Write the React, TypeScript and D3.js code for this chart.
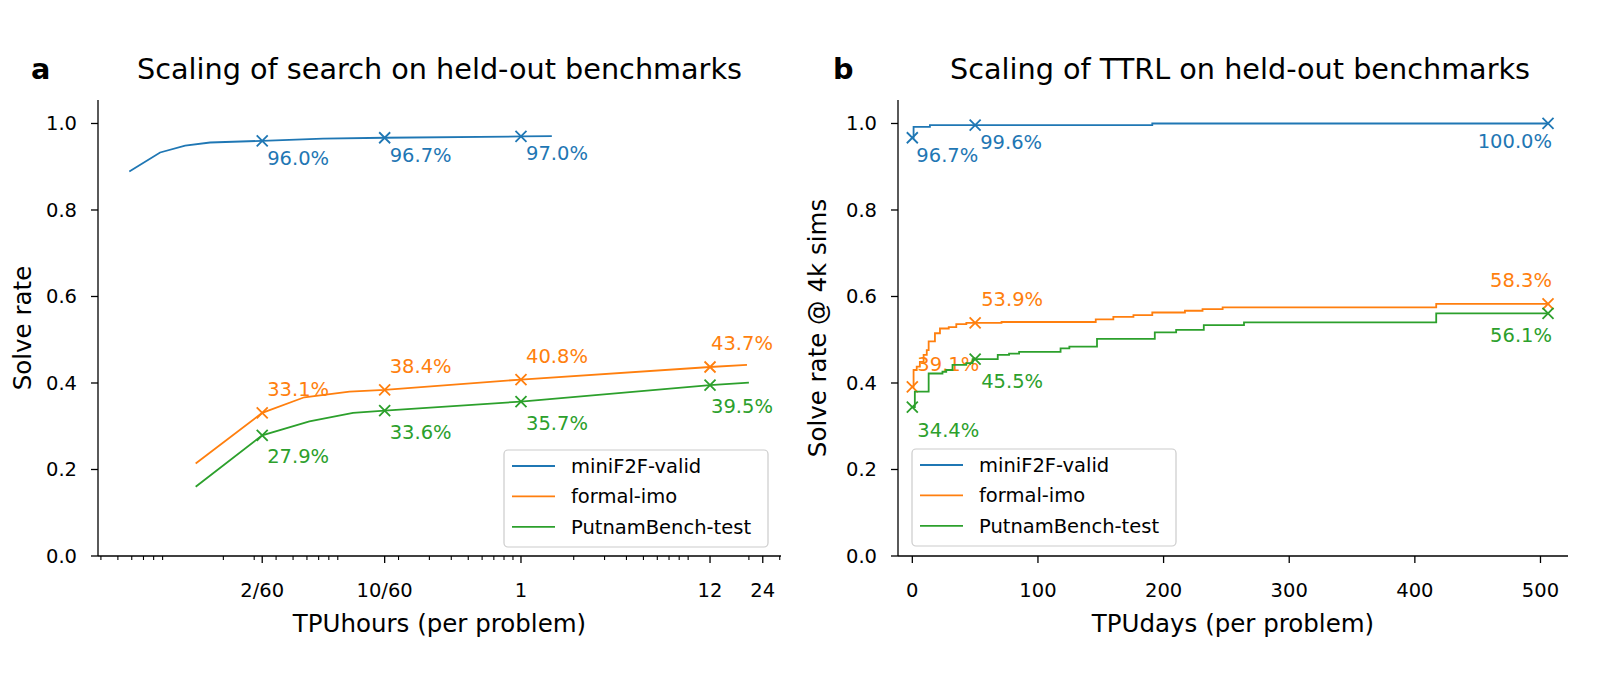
import { useEffect } from "react";
import * as d3 from "d3";

const COLORS = ["#1f77b4", "#ff7f0e", "#2ca02c"];
const SERIES_NAMES = ["miniF2F-valid", "formal-imo", "PutnamBench-test"];

// panel a: search compute (TPU hours per problem) vs solve rate
const searchHoursMiniF2F = [0.00581, 0.00871, 0.0121, 0.0168, 2 / 60, 0.0741, 10 / 60, 1, 1.5];
const searchRateMiniF2F = [0.889, 0.933, 0.949, 0.956, 0.96, 0.965, 0.967, 0.97, 0.971];
const searchHoursFormalImo = [0.0139, 2 / 60, 0.058, 0.105, 10 / 60, 1, 12, 19.5];
const searchRateFormalImo = [0.214, 0.331, 0.367, 0.38, 0.384, 0.408, 0.437, 0.442];
const searchHoursPutnam = [0.0139, 2 / 60, 0.062, 0.11, 10 / 60, 1, 12, 20];
const searchRatePutnam = [0.16, 0.279, 0.311, 0.331, 0.336, 0.357, 0.395, 0.401];
const searchMarkHours = [
  [2 / 60, 10 / 60, 1],
  [2 / 60, 10 / 60, 1, 12],
  [2 / 60, 10 / 60, 1, 12],
];

// panel b: TTRL compute (TPU days per problem) vs solve rate, step curves
const ttrlDaysMiniF2F = [0, 1, 14, 191, 506];
const ttrlRateMiniF2F = [0.967, 0.992, 0.996, 1.0, 1.0];
const ttrlDaysFormalImo = [0, 1, 3.5, 6, 9, 11.5, 13, 18, 22, 29, 35, 43, 71, 146, 160, 176, 191, 217, 231, 247, 417, 506];
const ttrlRateFormalImo = [0.391, 0.43, 0.438, 0.449, 0.465, 0.476, 0.496, 0.515, 0.526, 0.529, 0.536, 0.539, 0.541, 0.547, 0.553, 0.557, 0.563, 0.567, 0.571, 0.575, 0.583, 0.583];
const ttrlDaysPutnam = [0, 2, 13, 24, 27, 32, 43, 48, 68, 77, 85, 118, 125, 147, 193, 210, 232, 264, 417, 506];
const ttrlRatePutnam = [0.344, 0.38, 0.422, 0.426, 0.43, 0.442, 0.446, 0.455, 0.465, 0.468, 0.472, 0.48, 0.484, 0.502, 0.517, 0.523, 0.534, 0.54, 0.561, 0.561];
const ttrlMarkDays = [
  [0, 50, 506],
  [0, 50, 506],
  [0, 50, 506],
];

const hourTicks = [2 / 60, 10 / 60, 1, 12, 24];
const hourTickLabels = ["2/60", "10/60", "1", "12", "24"];
const dayTicks = [0, 100, 200, 300, 400, 500];
const rateTicks = [0, 0.2, 0.4, 0.6, 0.8, 1.0];

// label offsets (px) from each marker: [dx, dy, anchor]
const searchLabelOffsets: [number, number, string][][] = [
  [[5, 24, "start"], [5, 24, "start"], [5, 24, "start"]],
  [[5, -17, "start"], [5, -17, "start"], [5, -17, "start"], [1, -17, "start"]],
  [[5, 28, "start"], [5, 28, "start"], [5, 28, "start"], [1, 28, "start"]],
];
const ttrlLabelOffsets: [number, number, string][][] = [
  [[4, 24, "start"], [5, 24, "start"], [4, 25, "end"]],
  [[5, -16, "start"], [6, -17, "start"], [4, -17, "end"]],
  [[5, 30, "start"], [6, 29, "start"], [4, 29, "end"]],
];

const FONT = "'DejaVu Sans', sans-serif";
const TICK_FS = 19.5;
const LABEL_FS = 24.5;
const TITLE_FS = 28.7;
const Y_TOP = 100;
const Y_BOTTOM = 556;

const y = d3.scaleLinear().domain([0, 1.0543]).range([Y_BOTTOM, Y_TOP]);
const xHours = d3.scaleLog().domain([0.00385, 30.5]).range([98, 781]);
const xDays = d3.scaleLinear().domain([-11.4, 521.9]).range([898, 1568]);

const pct = (v: number) => `${(v * 100).toFixed(1)}%`;

type Pt = [number, number];

const zip = (xs: number[], ys: number[]): Pt[] => xs.map((d, i) => [d, ys[i]]);

const valueAt = (pts: Pt[], at: number) => {
  // value in effect at `at` (last point not after it)
  let v = pts[0][1];
  for (const p of pts) if (p[0] <= at + 1e-9) v = p[1];
  return v;
};

const Cross = ({ cx, cy, color }: { cx: number; cy: number; color: string }) => (
  <path
    d={`M${cx - 5.5},${cy - 5.5}L${cx + 5.5},${cy + 5.5}M${cx - 5.5},${cy + 5.5}L${cx + 5.5},${cy - 5.5}`}
    stroke={color}
    strokeWidth={1.8}
    fill="none"
  />
);

const Legend = ({ x0, y0 }: { x0: number; y0: number }) => (
  <g>
    <rect
      x={x0}
      y={y0}
      width={264}
      height={97}
      rx={4}
      fill="#fff"
      fillOpacity={0.8}
      stroke="#cccccc"
      strokeWidth={1.2}
    />
    {SERIES_NAMES.map((name, i) => {
      const ry = y0 + 16 + i * 30.4;
      return (
        <g key={name}>
          <line x1={x0 + 8} x2={x0 + 51} y1={ry} y2={ry} stroke={COLORS[i]} strokeWidth={1.8} />
          <text x={x0 + 67} y={ry + 7} fontSize={TICK_FS} fontFamily={FONT} fill="#000">
            {name}
          </text>
        </g>
      );
    })}
  </g>
);

const YAxis = ({ x0, label, labelX }: { x0: number; label: string; labelX: number }) => (
  <g>
    <line x1={x0} x2={x0} y1={Y_TOP} y2={Y_BOTTOM} stroke="#000" strokeWidth={1.3} />
    {rateTicks.map((t) => (
      <g key={t}>
        <line x1={x0 - 7} x2={x0} y1={y(t)} y2={y(t)} stroke="#000" strokeWidth={1.3} />
        <text
          x={x0 - 21}
          y={y(t) + 7}
          textAnchor="end"
          fontSize={TICK_FS}
          fontFamily={FONT}
          fill="#000"
        >
          {t.toFixed(1)}
        </text>
      </g>
    ))}
    <text
      transform={`translate(${labelX},${(Y_TOP + Y_BOTTOM) / 2}) rotate(-90)`}
      textAnchor="middle"
      fontSize={LABEL_FS}
      fontFamily={FONT}
      fill="#000"
    >
      {label}
    </text>
  </g>
);

export default function App() {
  useEffect(() => {
    document.body.style.margin = "0";
  }, []);

  const lineHours = d3
    .line<Pt>()
    .x((d) => xHours(d[0]))
    .y((d) => y(d[1]));
  const lineDays = d3
    .line<Pt>()
    .x((d) => xDays(d[0]))
    .y((d) => y(d[1]))
    .curve(d3.curveStepAfter);

  const searchSeries = [
    zip(searchHoursMiniF2F, searchRateMiniF2F),
    zip(searchHoursFormalImo, searchRateFormalImo),
    zip(searchHoursPutnam, searchRatePutnam),
  ];
  const ttrlSeries = [
    zip(ttrlDaysMiniF2F, ttrlRateMiniF2F),
    zip(ttrlDaysFormalImo, ttrlRateFormalImo),
    zip(ttrlDaysPutnam, ttrlRatePutnam),
  ];

  // log-scale minor ticks: 2..9 x 10^k inside the domain
  const minorHours = xHours
    .ticks()
    .filter((t) => Math.abs(t / Math.pow(10, Math.floor(Math.log10(t) + 1e-9)) - 1) > 1e-6);

  const [xl0, xl1] = xHours.range();
  const [xr0, xr1] = xDays.range();

  return (
    <svg
      width={1600}
      height={676}
      style={{ position: "absolute", left: 0, top: 0, background: "#fff" }}
    >
      <rect width={1600} height={676} fill="#fff" />

      {/* panel a */}
      <text x={31} y={79} fontSize={TITLE_FS} fontWeight="bold" fontFamily={FONT}>
        a
      </text>
      <text x={(xl0 + xl1) / 2} y={79} textAnchor="middle" fontSize={TITLE_FS} fontFamily={FONT}>
        Scaling of search on held-out benchmarks
      </text>
      <YAxis x0={xl0} label="Solve rate" labelX={31} />
      <line x1={xl0} x2={xl1} y1={Y_BOTTOM} y2={Y_BOTTOM} stroke="#000" strokeWidth={1.3} />
      {minorHours.map((t) => (
        <line key={t} x1={xHours(t)} x2={xHours(t)} y1={Y_BOTTOM} y2={Y_BOTTOM + 4} stroke="#000" strokeWidth={1.1} />
      ))}
      {hourTicks.map((t, i) => (
        <g key={t}>
          <line x1={xHours(t)} x2={xHours(t)} y1={Y_BOTTOM} y2={Y_BOTTOM + 7} stroke="#000" strokeWidth={1.3} />
          <text x={xHours(t)} y={597} textAnchor="middle" fontSize={TICK_FS} fontFamily={FONT}>
            {hourTickLabels[i]}
          </text>
        </g>
      ))}
      <text x={(xl0 + xl1) / 2} y={632} textAnchor="middle" fontSize={LABEL_FS} fontFamily={FONT}>
        TPUhours (per problem)
      </text>
      {searchSeries.map((pts, s) => (
        <g key={s}>
          <path d={lineHours(pts) ?? ""} fill="none" stroke={COLORS[s]} strokeWidth={1.8} />
          {searchMarkHours[s].map((h, j) => {
            const v = valueAt(pts, h);
            const cx = xHours(h);
            const cy = y(v);
            const [dx, dy, anchor] = searchLabelOffsets[s][j];
            return (
              <g key={j}>
                <Cross cx={cx} cy={cy} color={COLORS[s]} />
                <text
                  x={cx + dx}
                  y={cy + dy}
                  textAnchor={anchor}
                  fontSize={TICK_FS}
                  fontFamily={FONT}
                  fill={COLORS[s]}
                >
                  {pct(v)}
                </text>
              </g>
            );
          })}
        </g>
      ))}
      <Legend x0={504} y0={450} />

      {/* panel b */}
      <text x={833} y={79} fontSize={TITLE_FS} fontWeight="bold" fontFamily={FONT}>
        b
      </text>
      <text x={(xr0 + xr1) / 2 + 7} y={79} textAnchor="middle" fontSize={TITLE_FS} fontFamily={FONT}>
        Scaling of TTRL on held-out benchmarks
      </text>
      <YAxis x0={xr0} label="Solve rate @ 4k sims" labelX={826} />
      <line x1={xr0} x2={xr1} y1={Y_BOTTOM} y2={Y_BOTTOM} stroke="#000" strokeWidth={1.3} />
      {dayTicks.map((t) => (
        <g key={t}>
          <line x1={xDays(t)} x2={xDays(t)} y1={Y_BOTTOM} y2={Y_BOTTOM + 7} stroke="#000" strokeWidth={1.3} />
          <text x={xDays(t)} y={597} textAnchor="middle" fontSize={TICK_FS} fontFamily={FONT}>
            {t}
          </text>
        </g>
      ))}
      <text x={(xr0 + xr1) / 2} y={632} textAnchor="middle" fontSize={LABEL_FS} fontFamily={FONT}>
        TPUdays (per problem)
      </text>
      {ttrlSeries.map((pts, s) => (
        <g key={s}>
          <path d={lineDays(pts) ?? ""} fill="none" stroke={COLORS[s]} strokeWidth={1.8} />
          {ttrlMarkDays[s].map((d, j) => {
            const v = valueAt(pts, d);
            const cx = xDays(d);
            const cy = y(v);
            const [dx, dy, anchor] = ttrlLabelOffsets[s][j];
            return (
              <g key={j}>
                <Cross cx={cx} cy={cy} color={COLORS[s]} />
                <text
                  x={cx + dx}
                  y={cy + dy}
                  textAnchor={anchor}
                  fontSize={TICK_FS}
                  fontFamily={FONT}
                  fill={COLORS[s]}
                >
                  {pct(v)}
                </text>
              </g>
            );
          })}
        </g>
      ))}
      <Legend x0={912} y0={449} />
    </svg>
  );
}
